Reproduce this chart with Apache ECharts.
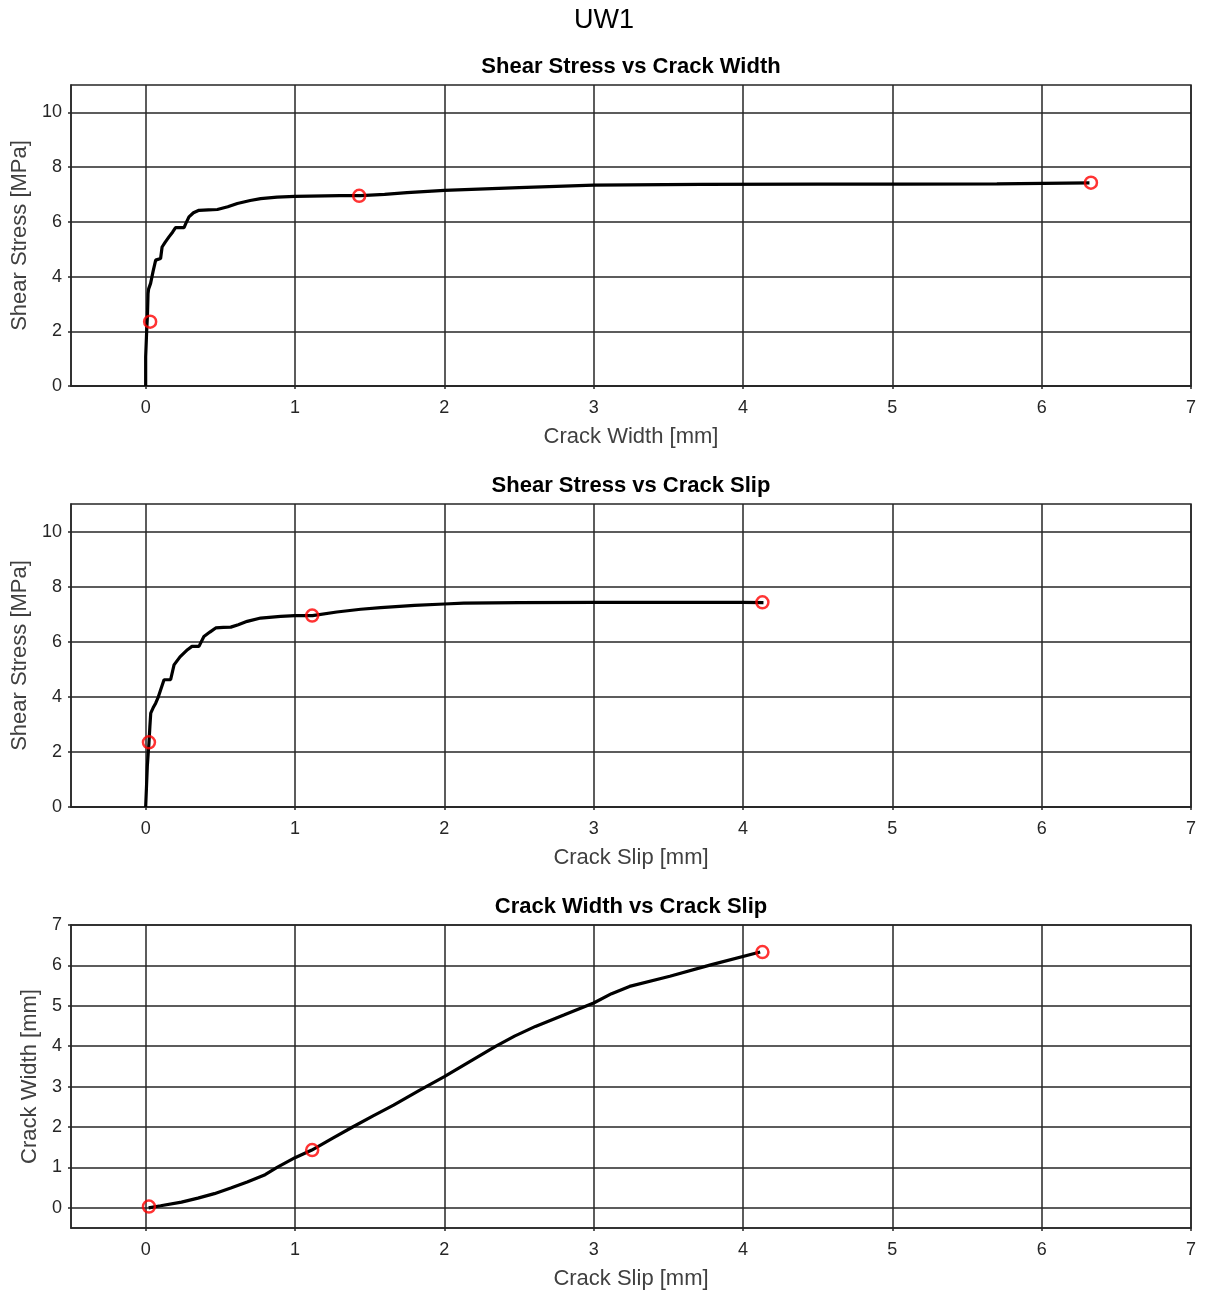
<!DOCTYPE html>
<html>
<head>
<meta charset="utf-8">
<title>UW1</title>
<script src="https://cdn.jsdelivr.net/npm/echarts@6/dist/echarts.min.js"></script>
<style>
  html, body { margin: 0; padding: 0; background: #ffffff; }
  #chart { width: 1205px; height: 1296px; }
</style>
</head>
<body>
<div id="chart"></div>
<script>
// Specimen UW1: shear stress / crack width / crack slip response

// Shear stress [MPa] against crack width [mm]
const widthCurveW = [0, 0.0, 0.007, 0.012, 0.016, 0.02, 0.033, 0.05, 0.067, 0.1, 0.11, 0.13, 0.156, 0.18, 0.2, 0.257, 0.27, 0.29, 0.32, 0.357, 0.42, 0.48, 0.55, 0.614, 0.7, 0.77, 0.88, 1.0, 1.3, 1.44, 1.6, 1.75, 2.0, 2.5, 3.0, 3.72, 4.5, 5.06, 5.7, 6.32];
const widthCurveTau = [0, 1.07, 2.04, 2.6, 3.38, 3.55, 3.75, 4.2, 4.6, 4.66, 5.08, 5.25, 5.45, 5.62, 5.79, 5.79, 5.95, 6.18, 6.33, 6.42, 6.44, 6.45, 6.55, 6.67, 6.78, 6.85, 6.9, 6.93, 6.96, 6.96, 7.0, 7.07, 7.15, 7.25, 7.34, 7.37, 7.38, 7.38, 7.39, 7.42];

// Shear stress [MPa] against crack slip [mm]
const slipCurveS = [0, 0.006, 0.011, 0.017, 0.022, 0.028, 0.034, 0.05, 0.067, 0.085, 0.1, 0.123, 0.167, 0.19, 0.23, 0.28, 0.31, 0.357, 0.39, 0.43, 0.469, 0.52, 0.57, 0.62, 0.68, 0.77, 0.904, 1.0, 1.117, 1.28, 1.44, 1.574, 1.8, 2.0, 2.13, 2.5, 3.0, 3.5, 4.0, 4.137];
const slipCurveTau = [0, 0.8, 1.47, 1.95, 2.32, 2.9, 3.41, 3.6, 3.77, 4.0, 4.25, 4.62, 4.62, 5.16, 5.45, 5.71, 5.83, 5.83, 6.19, 6.35, 6.5, 6.52, 6.53, 6.62, 6.74, 6.86, 6.92, 6.95, 6.95, 7.08, 7.18, 7.24, 7.32, 7.37, 7.4, 7.42, 7.43, 7.43, 7.43, 7.42];

// Crack width [mm] against crack slip [mm]
const kinematicS = [0.02, 0.1, 0.24, 0.35, 0.46, 0.57, 0.68, 0.8, 0.88, 1.0, 1.113, 1.25, 1.386, 1.52, 1.66, 1.83, 2.0, 2.17, 2.34, 2.47, 2.61, 2.8, 3.0, 3.12, 3.24, 3.51, 3.79, 4.115];
const kinematicW = [0, 0.05, 0.14, 0.24, 0.35, 0.49, 0.64, 0.82, 1.0, 1.24, 1.43, 1.72, 2.0, 2.27, 2.54, 2.9, 3.245, 3.62, 3.99, 4.25, 4.49, 4.77, 5.07, 5.3, 5.48, 5.73, 6.02, 6.33];

// Selected load stages (marked in every panel)
const stageSlip = [0.022, 1.115, 4.13];
const stageWidth = [0.03, 1.43, 6.33];
const stageTau = [2.35, 6.95, 7.43];

// Tick labels
const crackTicks = [0, 1, 2, 3, 4, 5, 6, 7];
const stressTicks = [0, 2, 4, 6, 8, 10];
const widthTicks = [0, 1, 2, 3, 4, 5, 6, 7];

const FONT = 'Arial, "Liberation Sans", Helvetica, sans-serif';
const AX = '#262626';

const zip = (a, b) => a.map((v, i) => [v, b[i]]);

function xAxisCfg(gridIndex, name) {
  return {
    gridIndex, type: 'value', min: -0.5, max: 7,
    name, nameLocation: 'middle', nameGap: 40,
    nameTextStyle: { fontFamily: FONT, fontSize: 22, color: '#404040' },
    axisLine: { show: true, onZero: false, lineStyle: { color: AX, width: 1.5 } },
    axisTick: { show: true, inside: false, length: 3, customValues: crackTicks, lineStyle: { color: AX, width: 1.5 } },
    axisLabel: { customValues: crackTicks, margin: 13, fontFamily: FONT, fontSize: 18, color: AX },
    splitLine: { show: true, lineStyle: { color: AX, width: 1.5 } }
  };
}

function yAxisCfg(gridIndex, name, min, max, ticks, gap) {
  return {
    gridIndex, type: 'value', min, max,
    name, nameLocation: 'middle', nameGap: gap,
    nameTextStyle: { fontFamily: FONT, fontSize: 22, color: '#404040' },
    axisLine: { show: true, onZero: false, lineStyle: { color: AX, width: 1.5 } },
    axisTick: { show: true, inside: false, length: 3, customValues: ticks, lineStyle: { color: AX, width: 1.5 } },
    axisLabel: { customValues: ticks, margin: 9, fontFamily: FONT, fontSize: 18, color: AX },
    splitLine: { show: true, lineStyle: { color: AX, width: 1.5 } }
  };
}

function curve(idx, data) {
  return {
    type: 'line', xAxisIndex: idx, yAxisIndex: idx, data,
    showSymbol: false, symbol: 'none', smooth: false,
    lineStyle: { color: '#000000', width: 3.2 },
    z: 3
  };
}

function stages(idx, data) {
  return {
    type: 'scatter', xAxisIndex: idx, yAxisIndex: idx, data,
    symbol: 'circle', symbolSize: 12,
    itemStyle: { color: 'rgba(0,0,0,0)', borderColor: '#ff0000', borderWidth: 2.5 },
    z: 4
  };
}

function heading(text, y, size, weight, x) {
  return {
    type: 'text', x, y,
    style: {
      text, fill: '#000000', font: weight + ' ' + size + 'px ' + FONT,
      textAlign: 'center', textVerticalAlign: 'middle'
    }
  };
}

const chart = echarts.init(document.getElementById('chart'), null, { renderer: 'canvas' });

const gridBox = { show: true, borderColor: AX, borderWidth: 1.5, backgroundColor: '#ffffff' };

chart.setOption({
  animation: false,
  backgroundColor: '#ffffff',
  graphic: [
    heading('UW1', 21, 27, 'normal', 604),
    heading('Shear Stress vs Crack Width', 67, 22, 'bold', 631),
    heading('Shear Stress vs Crack Slip', 486, 22, 'bold', 631),
    heading('Crack Width vs Crack Slip', 907, 22, 'bold', 631)
  ],
  grid: [
    Object.assign({ left: 71, top: 85, width: 1120, height: 301 }, gridBox),
    Object.assign({ left: 71, top: 504, width: 1120, height: 303 }, gridBox),
    Object.assign({ left: 71, top: 925, width: 1120, height: 303 }, gridBox)
  ],
  xAxis: [
    xAxisCfg(0, 'Crack Width [mm]'),
    xAxisCfg(1, 'Crack Slip [mm]'),
    xAxisCfg(2, 'Crack Slip [mm]')
  ],
  yAxis: [
    yAxisCfg(0, 'Shear Stress [MPa]', 0, 11, stressTicks, 40),
    yAxisCfg(1, 'Shear Stress [MPa]', 0, 11, stressTicks, 40),
    yAxisCfg(2, 'Crack Width [mm]', -0.5, 7, widthTicks, 28)
  ],
  series: [
    curve(0, zip(widthCurveW, widthCurveTau)),
    stages(0, zip(stageWidth, stageTau)),
    curve(1, zip(slipCurveS, slipCurveTau)),
    stages(1, zip(stageSlip, stageTau)),
    curve(2, zip(kinematicS, kinematicW)),
    stages(2, zip(stageSlip, stageWidth))
  ]
});
</script>
</body>
</html>
